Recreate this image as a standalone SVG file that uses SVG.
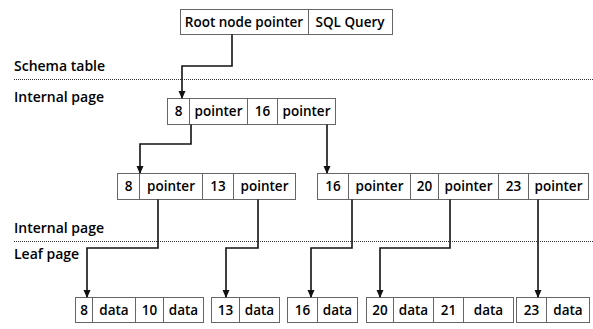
<svg xmlns="http://www.w3.org/2000/svg" width="593" height="329" viewBox="0 0 593 329">
<style>
.box{fill:#fff;stroke:#666;stroke-width:1}
.div{stroke:#666;stroke-width:1}
.t{font-family:"Open Sans","Liberation Sans",sans-serif;font-weight:600;font-size:13.5px;fill:#000;text-anchor:middle}
.lbl{font-family:"Open Sans","Liberation Sans",sans-serif;font-weight:600;font-size:14px;fill:#000}
.dot{stroke:#333;stroke-width:1;stroke-dasharray:1 1}
.c{fill:none;stroke:#111;stroke-width:1.6}
</style>
<defs>
<marker id="ah" markerWidth="8" markerHeight="8" refX="7" refY="3.5" orient="auto" markerUnits="userSpaceOnUse">
<path d="M0,0 L8,3.5 L0,7 Z" fill="#111"/>
</marker>
</defs>
<rect width="593" height="329" fill="#fff"/>
<g id="labels">
<text class="lbl" x="14" y="71">Schema table</text>
<text class="lbl" x="14" y="102">Internal page</text>
<text class="lbl" x="14" y="233">Internal page</text>
<text class="lbl" x="14" y="259">Leaf page</text>
<line class="dot" x1="14" y1="79.5" x2="593" y2="79.5"/>
<line class="dot" x1="14" y1="241.5" x2="593" y2="241.5"/>
</g>
<g id="root">
<rect class="box" x="180.5" y="9.5" width="212" height="25"/>
<line class="div" x1="308.5" y1="9.5" x2="308.5" y2="34.5"/>
<text class="t" x="244" y="27">Root node pointer</text>
<text class="t" x="350" y="27">SQL Query</text>
</g>
<g id="internal-top">
<rect class="box" x="167.5" y="98.5" width="168" height="26"/>
<line class="div" x1="189.5" y1="98.5" x2="189.5" y2="124.5"/>
<line class="div" x1="247.5" y1="98.5" x2="247.5" y2="124.5"/>
<line class="div" x1="277.5" y1="98.5" x2="277.5" y2="124.5"/>
<text class="t" x="178.5" y="116">8</text>
<text class="t" x="218.5" y="116">pointer</text>
<text class="t" x="262.5" y="116">16</text>
<text class="t" x="306.5" y="116">pointer</text>
</g>
<g id="internal-left">
<rect class="box" x="117.5" y="173.5" width="178" height="26"/>
<line class="div" x1="139.5" y1="173.5" x2="139.5" y2="199.5"/>
<line class="div" x1="202.5" y1="173.5" x2="202.5" y2="199.5"/>
<line class="div" x1="233.5" y1="173.5" x2="233.5" y2="199.5"/>
<text class="t" x="128.5" y="191">8</text>
<text class="t" x="171" y="191">pointer</text>
<text class="t" x="218" y="191">13</text>
<text class="t" x="264.5" y="191">pointer</text>
</g>
<g id="internal-right">
<rect class="box" x="317.5" y="173.5" width="271" height="26"/>
<line class="div" x1="348.5" y1="173.5" x2="348.5" y2="199.5"/>
<line class="div" x1="410.5" y1="173.5" x2="410.5" y2="199.5"/>
<line class="div" x1="438.5" y1="173.5" x2="438.5" y2="199.5"/>
<line class="div" x1="498.5" y1="173.5" x2="498.5" y2="199.5"/>
<line class="div" x1="528.5" y1="173.5" x2="528.5" y2="199.5"/>
<text class="t" x="333" y="191">16</text>
<text class="t" x="379.5" y="191">pointer</text>
<text class="t" x="424.5" y="191">20</text>
<text class="t" x="468.5" y="191">pointer</text>
<text class="t" x="513.5" y="191">23</text>
<text class="t" x="558.5" y="191">pointer</text>
</g>
<g id="leaf1">
<rect class="box" x="75.5" y="297.5" width="128" height="25"/>
<line class="div" x1="92.5" y1="297.5" x2="92.5" y2="322.5"/>
<line class="div" x1="135.5" y1="297.5" x2="135.5" y2="322.5"/>
<line class="div" x1="163.5" y1="297.5" x2="163.5" y2="322.5"/>
<text class="t" x="84" y="315">8</text>
<text class="t" x="114" y="315">data</text>
<text class="t" x="149.5" y="315">10</text>
<text class="t" x="183.5" y="315">data</text>
</g>
<g id="leaf2">
<rect class="box" x="211.5" y="297.5" width="68" height="25"/>
<line class="div" x1="239.5" y1="297.5" x2="239.5" y2="322.5"/>
<text class="t" x="225.5" y="315">13</text>
<text class="t" x="259.5" y="315">data</text>
</g>
<g id="leaf3">
<rect class="box" x="287.5" y="297.5" width="70" height="25"/>
<line class="div" x1="317.5" y1="297.5" x2="317.5" y2="322.5"/>
<text class="t" x="302.5" y="315">16</text>
<text class="t" x="337.5" y="315">data</text>
</g>
<g id="leaf4">
<rect class="box" x="366.5" y="297.5" width="147" height="25"/>
<line class="div" x1="393.5" y1="297.5" x2="393.5" y2="322.5"/>
<line class="div" x1="433.5" y1="297.5" x2="433.5" y2="322.5"/>
<line class="div" x1="463.5" y1="297.5" x2="463.5" y2="322.5"/>
<text class="t" x="380" y="315">20</text>
<text class="t" x="413.5" y="315">data</text>
<text class="t" x="448.5" y="315">21</text>
<text class="t" x="488.5" y="315">data</text>
</g>
<g id="leaf5">
<rect class="box" x="516.5" y="297.5" width="73" height="25"/>
<line class="div" x1="546.5" y1="297.5" x2="546.5" y2="322.5"/>
<text class="t" x="531.5" y="315">23</text>
<text class="t" x="568" y="315">data</text>
</g>
<g id="connectors">
<path class="c" d="M232,34.5 V66 H182 V98" marker-end="url(#ah)"/>
<path class="c" d="M191,124.5 V144 H140 V173" marker-end="url(#ah)"/>
<path class="c" d="M327,124.5 V173" marker-end="url(#ah)"/>
<path class="c" d="M158,199.5 V248 H87 V297" marker-end="url(#ah)"/>
<path class="c" d="M258,199.5 V248 H226 V297" marker-end="url(#ah)"/>
<path class="c" d="M352,199.5 V248 H311 V297" marker-end="url(#ah)"/>
<path class="c" d="M450,199.5 V248 H380 V297" marker-end="url(#ah)"/>
<path class="c" d="M538,199.5 V297" marker-end="url(#ah)"/>
</g>
</svg>
